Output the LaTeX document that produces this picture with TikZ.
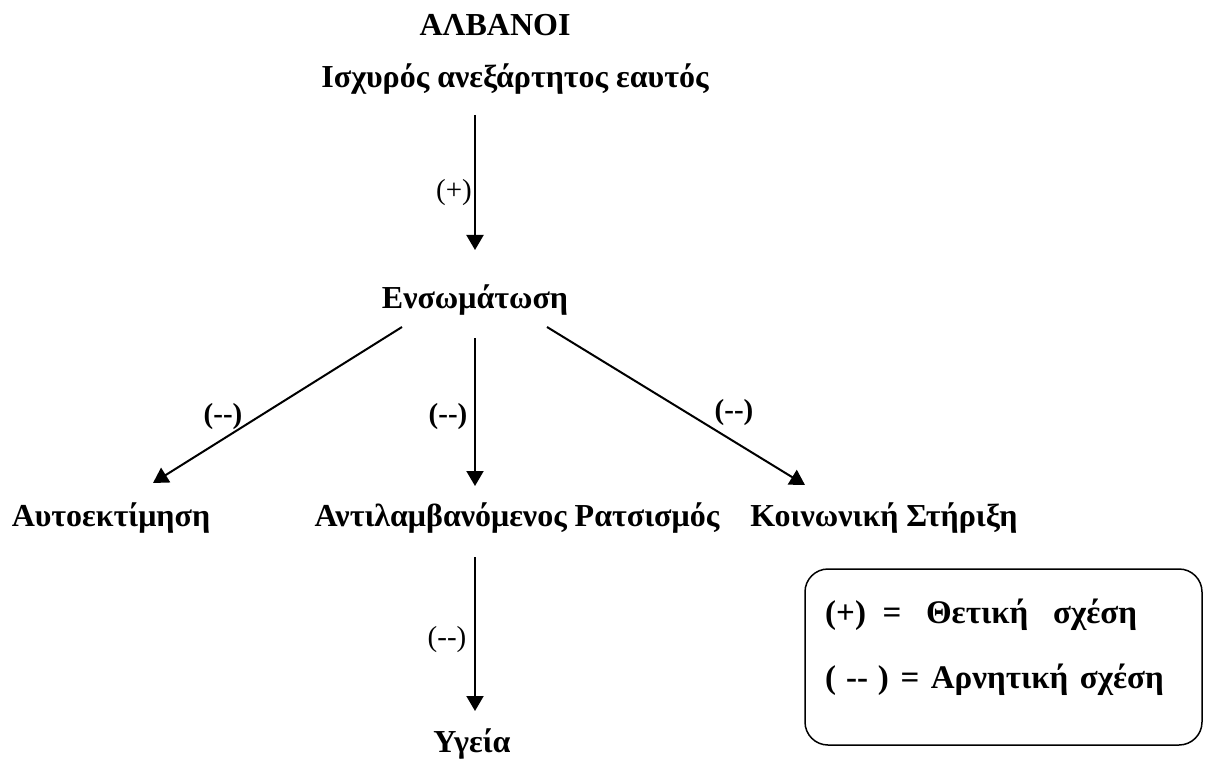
\documentclass[tikz,border=0pt]{standalone}
\usepackage{fontspec}
\setmainfont{Liberation Serif}
\usetikzlibrary{arrows.meta,calc}
\begin{document}
\begin{tikzpicture}[x=1pt,y=-1pt,
  term/.style={font=\fontsize{32}{38}\selectfont\bfseries, inner sep=0pt, anchor=base},
  sign/.style={font=\fontsize{29}{34}\selectfont, inner sep=0pt},
  signb/.style={font=\fontsize{29}{34}\selectfont\bfseries, inner sep=0pt},
  keytext/.style={font=\fontsize{33}{38}\selectfont\bfseries, inner sep=0pt, anchor=base west},
  link/.style={line width=2pt, -{Triangle[width=17pt,length=15pt]}}]
\useasboundingbox (0,0) rectangle (1206,759);

% concepts
\node[term] (grp)  at (495,36)  {ΑΛΒΑΝΟΙ};
\node[term] (self) at (515,88)  {Ισχυρός ανεξάρτητος εαυτός};
\node[term] (ens)  at (475,308) {Ενσωμάτωση};
\node[term] (est)  at (111,526) {Αυτοεκτίμηση};
\node[term] (rac)  at (517,526) {Αντιλαμβανόμενος Ρατσισμός};
\node[term] (sup)  at (884,526) {Κοινωνική Στήριξη};
\node[term] (hea)  at (472,752) {Υγεία};

% relations
\draw[link] ($(self.base -| ens.base)+(0,27)$) -- ($(ens.base)+(0,-58)$);
\draw[link] ($(ens.base)+(-73,19)$) -- ($(est.base)+(42,-43)$);
\draw[link] ($(ens.base)+(0,30)$) -- ($(ens.base |- rac.base)+(0,-40)$);
\draw[link] ($(ens.base)+(72,19)$) -- ($(sup.base)+(-79,-41)$);
\draw[link] ($(ens.base |- rac.base)+(0,31)$) -- ($(ens.base |- hea.base)+(0,-41)$);

% signs of the relations
\node[sign]  (s1) at (454,193) {(+)};
\node[signb] (s2) at (223,417) {(-{}-)};
\node[signb] (s3) at (448,417) {(-{}-)};
\node[signb] (s4) at (734,413) {(-{}-)};
\node[sign]  (s5) at (447,640) {(-{}-)};

% key
\node[draw, line width=1.5pt, rounded corners=23pt, minimum width=397pt, minimum height=176pt] (key) at (1003.5,657) {};
\node[keytext] (k1) at (825,623) {(+)\ \ =\ \ \ Θετική\ \ \ σχέση};
\node[keytext] (k2) at (825,688) {(\hspace{0.3em}-{}-\hspace{0.3em})\hspace{0.35em}=\hspace{0.35em}Αρνητική\hspace{0.35em}σχέση};
\end{tikzpicture}
\end{document}
